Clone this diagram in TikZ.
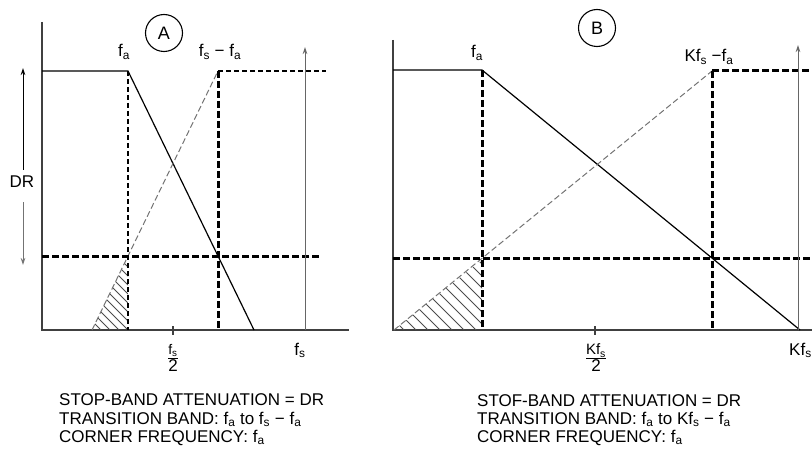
\documentclass[tikz,border=0pt]{standalone}
\usepackage{amsmath}
\usepackage{fontspec}
\setmainfont{Liberation Sans}
\usetikzlibrary{arrows.meta,positioning}

\newcommand{\fq}[2]{#1\textsubscript{#2}}

\begin{document}
\begin{tikzpicture}[x=1pt,y=-1pt,
axis/.style={draw=black!75,line width=1.2pt},
resp/.style={black,line width=1.2pt},
mirror/.style={black!55,line width=1pt,dash pattern=on 6pt off 3pt},
bound/.style={black,line width=3pt,dash pattern=on 7pt off 3pt},
lightbound/.style={black,line width=1.5pt,dash pattern=on 5pt off 3pt},
hatch/.style={black!70,line width=1pt},
marker/.style={line width=1pt,-{Stealth[length=7pt,width=4.5pt]}},
lbl/.style={font=\fontsize{17}{18.5}\selectfont,inner sep=0pt},
note/.style={font=\fontsize{17}{18.5}\selectfont,inner sep=0pt,anchor=base west},
tag/.style={draw,circle,line width=1.1pt,minimum size=37pt,inner sep=0pt,font=\fontsize{18}{20}\selectfont}
]
\useasboundingbox (0,0) rectangle (812,452);
% panel A
\coordinate (Ao) at (42,330);
\coordinate (Ay) at (42,22);
\coordinate (Ax) at (349,330);
\coordinate (Afa) at (128,71);
\coordinate (Aim) at (218,71);
\coordinate (Afs) at (305,330);
\draw[axis] (Ay) -- (Ao) -- (Ax);
\begin{scope}
\clip (92,330) -- (128,330) -- (128,256) -- cycle;
\foreach \s in {12,21,...,130} \draw[hatch] (\s,250) -- ++(90,90);
\end{scope}
\draw[resp] (Afa -| Ao) -- (Afa) -- (254,330);
\draw[mirror] (92,330) -- (Aim);
\draw[lightbound] (Afa) -- (Afa |- Ao);
\draw[bound] (Aim) -- (Aim |- Ao);
\draw[lightbound] (Aim) -- (326,71);
\draw[bound] (42,256) -- (320,256);
\draw[marker,black!60] (Afs) -- (305,47);
\draw[axis] (173,326) -- (173,335);
\node[tag] (tagA) at (164,33) {A};
\node[lbl,anchor=base] (faA) at (124,57) {\fq{f}{a}};
\node[lbl,anchor=base] (imA) at (220,57) {\fq{f}{s} − \fq{f}{a}};
\node[lbl,inner ysep=6pt] (dr) at (22,182) {DR};
\coordinate (drtop) at (23,68);
\coordinate (drbot) at (23,265);
\draw[marker,black] (dr.north -| drtop) -- (drtop);
\draw[marker,black!55,shorten <=8pt] (dr.south -| drbot) -- (drbot);
\node[lbl] (halfA) at (173,358) {$\genfrac{}{}{1pt}{}{\mbox{\fontsize{14}{14}\selectfont\fq{f}{s}}}{\mbox{2}}$};
\node[lbl,anchor=base] (fsA) at (300,355) {\fq{f}{s}};
\node[note] (stopA) at (59,405) {STOP-BAND ATTENUATION = DR};
\node[note] (transA) at (59,424) {TRANSITION BAND: \fq{f}{a} to \fq{f}{s} − \fq{f}{a}};
\node[note] (cornA) at (59,442) {CORNER FREQUENCY: \fq{f}{a}};
% panel B
\coordinate (Bo) at (393,330);
\coordinate (By) at (393,40);
\coordinate (Bx) at (812,330);
\coordinate (Bfa) at (482,70);
\coordinate (Bim) at (712,71);
\coordinate (Bfs) at (798,330);
\draw[axis] (By) -- (Bo) -- (Bx);
\begin{scope}
\clip (394,330) -- (482,330) -- (482,260) -- cycle;
\foreach \s in {312,324,...,480} \draw[hatch] (\s,250) -- ++(90,90);
\end{scope}
\draw[resp] (Bfa -| Bo) -- (Bfa) -- (800,330);
\draw[mirror] (394,330) -- (Bim);
\draw[bound] (Bfa) -- (Bfa |- Bo);
\draw[bound] (Bim) -- (Bim |- Bo);
\draw[bound] (Bim) -- (812,71);
\draw[bound] (393,258) -- (812,258);
\draw[marker,black!60] (Bfs) -- (798,45);
\draw[axis] (595,326) -- (595,335);
\node[tag] (tagB) at (597,28) {B};
\node[lbl,anchor=base] (faB) at (477,58) {\fq{f}{a}};
\node[lbl,anchor=base] (imB) at (709,62) {K\fq{f}{s} −\fq{f}{a}};
\node[lbl] (halfB) at (596,358) {$\genfrac{}{}{1pt}{}{\mbox{\fontsize{15}{15}\selectfont K\fq{f}{s}}}{\mbox{2}}$};
\node[lbl,anchor=base west] (fsB) at (789,355) {K\fq{f}{s}};
\node[note] (stopB) at (477,406) {STOF-BAND ATTENUATION = DR};
\node[note] (transB) at (477,424) {TRANSITION BAND: \fq{f}{a} to K\fq{f}{s} − \fq{f}{a}};
\node[note] (cornB) at (477,442) {CORNER FREQUENCY: \fq{f}{a}};
\end{tikzpicture}
\end{document}
